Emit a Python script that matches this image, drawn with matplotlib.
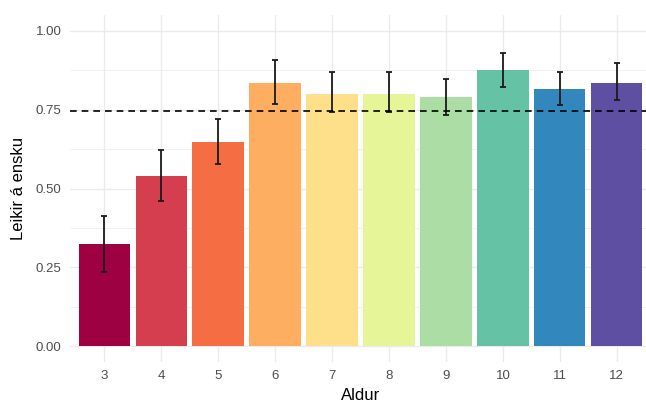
import matplotlib
matplotlib.use("Agg")
import matplotlib.pyplot as plt
import numpy as np

plt.rcParams['font.family'] = ['Liberation Sans', 'DejaVu Sans']

ages = ["3", "4", "5", "6", "7", "8", "9", "10", "11", "12"]
values = [0.323, 0.540, 0.648, 0.834, 0.800, 0.800, 0.790, 0.876, 0.815, 0.835]
err_low = [0.235, 0.460, 0.578, 0.768, 0.741, 0.741, 0.733, 0.823, 0.764, 0.781]
err_high = [0.413, 0.622, 0.720, 0.906, 0.868, 0.868, 0.848, 0.929, 0.868, 0.897]
colors = ["#9E0142", "#D53E4F", "#F46D43", "#FDAE61", "#FEE08B",
          "#E6F598", "#ABDDA4", "#66C2A5", "#3288BD", "#5E4FA2"]
ref_line = 0.745
yticks = [0.00, 0.25, 0.50, 0.75, 1.00]
ytick_labels = ["0.00", "0.25", "0.50", "0.75", "1.00"]

fig = plt.figure(figsize=(6.46, 4.03), dpi=100)
W, H = 646, 403
ax = fig.add_axes([70 / W, 1 - 362 / H, 581 / W, 347 / H])

x = np.arange(len(ages))
ax.set_xlim(-0.6, len(ages) - 1 + 0.6)
ax.set_ylim(-0.05, 1.05)

# grid
for m in [0.125, 0.375, 0.625, 0.875]:
    ax.axhline(m, color="#EBEBEB", lw=0.5, zorder=0)
for t in yticks:
    ax.axhline(t, color="#EBEBEB", lw=1.0, zorder=0)
for xi in x:
    ax.axvline(xi, color="#EBEBEB", lw=1.0, zorder=0)

ax.bar(x, values, width=0.9, color=colors, zorder=2)
vals = np.array(values)
yerr = np.vstack([vals - np.array(err_low), np.array(err_high) - vals])
ax.errorbar(x, vals, yerr=yerr, fmt="none", ecolor="#1a1a1a", elinewidth=1.3,
            capsize=2, capthick=1.3, zorder=3)
ax.axhline(ref_line, color="black", lw=1.2, linestyle=(0, (4, 3)), zorder=4)

ax.set_xticks(x)
ax.set_xticklabels(ages)
ax.set_yticks(yticks)
ax.set_yticklabels(ytick_labels)
ax.tick_params(axis="both", length=0, labelsize=9.5, labelcolor="#4D4D4D", pad=6)
for s in ax.spines.values():
    s.set_visible(False)

ax.set_xlabel("Aldur", fontsize=12, color="black", labelpad=4)
ax.set_ylabel("Leikir á ensku", fontsize=12, color="black", labelpad=7)

fig.savefig("out.png", dpi=100)
